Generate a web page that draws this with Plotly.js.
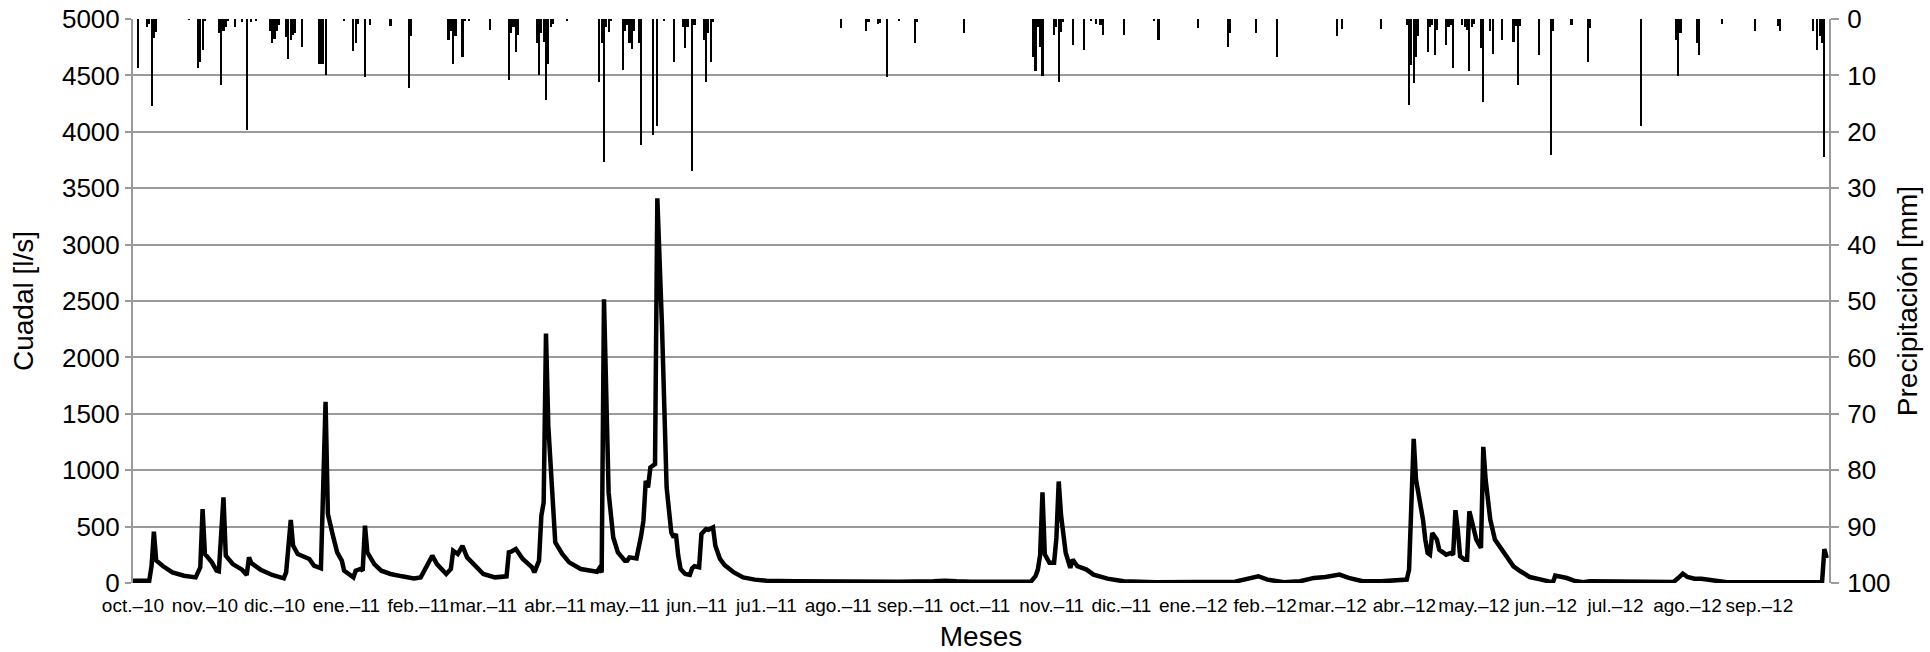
<!DOCTYPE html>
<html>
<head>
<meta charset="utf-8">
<script src="https://cdn.plot.ly/plotly-3.0.1.min.js"></script>
<style>
  html, body { margin: 0; padding: 0; background: #ffffff; }
  #chart { width: 1930px; height: 652px; }
</style>
</head>
<body>
<div id="chart"></div>
<script>
// Month ticks
const monthTickDates = ['2010-10-01','2010-11-01','2010-12-01','2011-01-01','2011-02-01','2011-03-01','2011-04-01','2011-05-01','2011-06-01','2011-07-01','2011-08-01','2011-09-01','2011-10-01','2011-11-01','2011-12-01','2012-01-01','2012-02-01','2012-03-01','2012-04-01','2012-05-01','2012-06-01','2012-07-01','2012-08-01','2012-09-01'];
const monthTickLabels = ['oct.–10','nov.–10','dic.–10','ene.–11','feb.–11','mar.–11','abr.–11','may.–11','jun.–11','ju1.–11','ago.–11','sep.–11','oct.–11','nov.–11','dic.–11','ene.–12','feb.–12','mar.–12','abr.–12','may.–12','jun.–12','jul.–12','ago.–12','sep.–12'];

// Daily precipitation [mm] (days with rain)
const precipDates = ['2010-10-03','2010-10-07','2010-10-08','2010-10-09','2010-10-10','2010-10-11','2010-10-25','2010-10-29','2010-10-30','2010-10-31','2010-11-01','2010-11-07','2010-11-08','2010-11-09','2010-11-10','2010-11-11','2010-11-14','2010-11-17','2010-11-19','2010-11-21','2010-11-23','2010-11-29','2010-11-30','2010-12-01','2010-12-02','2010-12-03','2010-12-06','2010-12-07','2010-12-08','2010-12-09','2010-12-10','2010-12-13','2010-12-20','2010-12-21','2010-12-22','2010-12-23','2010-12-31',
'2011-01-04','2011-01-05','2011-01-06','2011-01-09','2011-01-11','2011-01-20','2011-01-28','2011-01-29','2011-02-14','2011-02-15','2011-02-16','2011-02-17','2011-02-20','2011-02-21','2011-02-23','2011-03-04','2011-03-12','2011-03-13','2011-03-14','2011-03-15','2011-03-16','2011-03-24','2011-03-25','2011-03-26','2011-03-27','2011-03-28','2011-03-29','2011-03-30','2011-03-31','2011-04-06','2011-04-20','2011-04-21','2011-04-22','2011-04-23','2011-04-24','2011-04-25','2011-04-30','2011-05-01','2011-05-02','2011-05-03','2011-05-04','2011-05-05','2011-05-07','2011-05-08','2011-05-13','2011-05-15','2011-05-18','2011-05-22','2011-05-26','2011-05-27','2011-05-28','2011-05-30','2011-05-31','2011-06-04','2011-06-05','2011-06-06','2011-06-07','2011-06-08','2011-08-02','2011-08-13','2011-08-14','2011-08-18','2011-08-19','2011-08-22','2011-08-27','2011-09-03','2011-09-04','2011-09-24','2011-10-24','2011-10-25','2011-10-26','2011-10-27','2011-10-28','2011-11-02','2011-11-03','2011-11-04','2011-11-05','2011-11-06','2011-11-10','2011-11-15','2011-11-18','2011-11-20','2011-11-22','2011-11-23','2011-12-02','2011-12-15','2011-12-17',
'2012-01-03','2012-01-16','2012-01-17','2012-01-28','2012-02-06','2012-03-03','2012-03-05','2012-03-22','2012-04-02','2012-04-03','2012-04-04','2012-04-05','2012-04-06','2012-04-07','2012-04-11','2012-04-12','2012-04-13','2012-04-14','2012-04-15','2012-04-19','2012-04-20','2012-04-21','2012-04-22','2012-04-26','2012-04-27','2012-04-28','2012-04-29','2012-04-30','2012-05-01','2012-05-04','2012-05-05','2012-05-08','2012-05-09','2012-05-13','2012-05-18','2012-05-19','2012-05-20','2012-05-21','2012-05-29','2012-06-03','2012-06-04','2012-06-12','2012-06-19','2012-06-20','2012-07-12','2012-07-27','2012-07-28','2012-07-29','2012-08-05','2012-08-06','2012-08-16','2012-08-30','2012-09-09','2012-09-10','2012-09-24','2012-09-26','2012-09-27','2012-09-28','2012-09-29'];
const precipValues = [8.7,1.4,0.8,15.5,3.4,2.3,0.2,8.7,7.7,5.5,0.4,2.5,11.7,2.1,1.4,0.4,1.4,0.5,19.7,0.6,0.3,2.1,4.3,3.5,2.1,1.0,3.2,7.1,3.8,2.8,2.5,4.9,7.9,7.9,7.9,9.9,0.3,
5.6,4.3,0.9,10.3,1.0,1.2,12.3,3.0,3.8,2.1,7.9,3.0,6.7,0.3,0.3,2.0,10.8,2.5,1.5,5.8,2.8,4.3,9.9,2.5,4.0,14.4,7.9,1.4,0.8,0.3,11.1,4.3,25.4,1.4,2.3,0.3,9.0,2.1,1.0,4.3,5.4,2.1,4.3,22.3,20.6,19.0,0.3,7.6,1.4,5.2,1.4,26.9,1.0,3.8,11.1,2.5,7.7,0.5,1.6,2.1,0.5,0.9,0.7,10.3,0.3,4.3,0.5,2.5,6.7,9.3,1.4,4.9,10.1,2.8,1.4,11.1,2.3,0.5,4.6,5.5,0.3,0.8,1.0,2.8,2.8,0.3,3.8,
1.6,4.9,2.5,2.5,6.8,3.0,1.8,1.8,1.0,15.2,8.1,11.4,6.7,3.0,5.8,1.4,1.0,6.3,2.0,4.6,1.4,1.0,8.7,1.0,1.4,2.0,9.3,1.4,0.8,5.2,14.7,2.1,6.2,3.8,4.1,1.2,11.7,1.2,6.4,24.1,2.1,1.1,7.6,1.6,19.0,3.8,10.1,2.5,4.3,6.4,0.8,2.1,1.2,2.2,2.1,5.5,3.0,4.3,24.4];

// Discharge [l/s]
const flowDates = ['2010-10-01','2010-10-08','2010-10-09','2010-10-10','2010-10-11','2010-10-14','2010-10-18','2010-10-23','2010-10-28','2010-10-30','2010-10-31','2010-11-01','2010-11-04','2010-11-06','2010-11-07','2010-11-09','2010-11-10','2010-11-13','2010-11-17','2010-11-19','2010-11-20','2010-11-21','2010-11-25','2010-11-30','2010-12-05','2010-12-06','2010-12-08','2010-12-09','2010-12-11','2010-12-14','2010-12-16','2010-12-18','2010-12-20','2010-12-21','2010-12-23','2010-12-24','2010-12-26','2010-12-28','2010-12-30','2010-12-31',
'2011-01-02','2011-01-04','2011-01-05','2011-01-07','2011-01-08','2011-01-09','2011-01-10','2011-01-13','2011-01-16','2011-01-20','2011-01-25','2011-01-30','2011-02-02','2011-02-05','2011-02-07','2011-02-09','2011-02-12','2011-02-13','2011-02-15','2011-02-16','2011-02-18','2011-02-20','2011-02-22','2011-02-26','2011-03-01','2011-03-06','2011-03-11','2011-03-12','2011-03-13','2011-03-15','2011-03-18','2011-03-22','2011-03-23','2011-03-25','2011-03-26','2011-03-27','2011-03-28','2011-03-29','2011-03-31','2011-04-01','2011-04-04','2011-04-07','2011-04-12','2011-04-16','2011-04-19','2011-04-20','2011-04-21','2011-04-22','2011-04-23','2011-04-24','2011-04-26','2011-04-28','2011-05-01','2011-05-02','2011-05-03','2011-05-06','2011-05-08','2011-05-09','2011-05-10','2011-05-11','2011-05-12','2011-05-14','2011-05-15','2011-05-17','2011-05-19','2011-05-21','2011-05-22','2011-05-23','2011-05-24','2011-05-25','2011-05-27','2011-05-29','2011-05-30','2011-05-31','2011-06-02','2011-06-03','2011-06-05','2011-06-06','2011-06-08','2011-06-09','2011-06-11','2011-06-13','2011-06-17','2011-06-21','2011-06-26','2011-07-01','2011-07-13','2011-07-28','2011-08-27','2011-09-11','2011-09-16','2011-09-21','2011-09-27','2011-10-23','2011-10-25','2011-10-26','2011-10-27','2011-10-28','2011-10-29','2011-10-31','2011-11-02','2011-11-03','2011-11-04','2011-11-05','2011-11-06','2011-11-07','2011-11-09','2011-11-10','2011-11-12','2011-11-16','2011-11-19','2011-11-25','2011-12-02','2011-12-16',
'2012-01-19','2012-01-24','2012-01-29','2012-02-02','2012-02-09','2012-02-16','2012-02-22','2012-02-27','2012-03-04','2012-03-08','2012-03-14','2012-03-22','2012-04-01','2012-04-02','2012-04-03','2012-04-05','2012-04-06','2012-04-08','2012-04-09','2012-04-10','2012-04-11','2012-04-12','2012-04-13','2012-04-15','2012-04-16','2012-04-19','2012-04-21','2012-04-22','2012-04-23','2012-04-24','2012-04-25','2012-04-27','2012-04-28','2012-04-29','2012-04-30','2012-05-02','2012-05-04','2012-05-05','2012-05-06','2012-05-08','2012-05-10','2012-05-13','2012-05-16','2012-05-18','2012-05-21','2012-05-25','2012-05-30','2012-06-04','2012-06-05','2012-06-08','2012-06-10','2012-06-13','2012-06-17','2012-06-20','2012-06-25','2012-06-30','2012-07-26','2012-07-28','2012-07-30','2012-08-01','2012-08-04','2012-08-07','2012-08-12','2012-08-18','2012-09-28','2012-09-29','2012-09-30'];
const flowValues = [20,20,150,455,200,148,94,65,50,139,655,257,183,109,103,759,242,168,118,71,227,177,118,71,41,94,558,331,257,227,213,154,133,130,1606,611,434,272,198,109,
80,50,109,124,109,508,272,168,109,80,59,41,50,154,242,168,94,80,124,286,257,330,227,139,80,50,59,272,278,301,213,139,94,198,596,714,2211,1393,744,360,257,183,124,109,100,130,94,2516,1689,803,404,272,198,198,227,218,419,552,906,847,1024,1054,3410,2279,847,449,404,434,242,124,80,71,130,148,139,434,478,472,493,331,213,159,94,50,30,21,15,12,12,15,20,15,12,12,60,119,250,803,253,179,179,400,900,600,387,268,134,208,149,119,74,39,15,6,
12,36,60,30,6,15,45,54,74,45,15,15,20,30,118,1278,917,680,562,385,266,251,444,385,296,251,266,251,645,473,237,207,207,636,562,385,311,1207,917,562,385,296,207,148,104,53,30,6,65,53,44,21,6,15,15,6,9,44,83,53,38,38,21,6,6,300,220];

const FONT = 'Liberation Sans, Arial, Helvetica, sans-serif';
const GRID = '#9a9a9a';

const traces = [
  {
    type: 'bar',
    x: precipDates,
    y: precipValues,
    yaxis: 'y2',
    marker: { color: '#000000', line: { width: 0 } },
    width: 86400000 * 0.9,
    hoverinfo: 'skip',
    showlegend: false
  },
  {
    type: 'scatter',
    mode: 'lines',
    x: flowDates,
    y: flowValues,
    line: { color: '#000000', width: 4.5 },
    hoverinfo: 'skip',
    showlegend: false
  }
];

const layout = {
  width: 1930,
  height: 652,
  margin: { l: 133, r: 101, t: 19, b: 69, pad: 0 },
  paper_bgcolor: '#ffffff',
  plot_bgcolor: '#ffffff',
  font: { family: FONT, color: '#000000' },
  showlegend: false,
  bargap: 0,
  xaxis: {
    type: 'date',
    range: ['2010-10-01', '2012-10-01'],
    tickmode: 'array',
    tickvals: monthTickDates,
    ticktext: monthTickLabels,
    tickangle: 0,
    ticks: '',
    ticklabelstandoff: 9,
    showgrid: false,
    zeroline: false,
    showline: false,
    tickfont: { family: FONT, size: 19, color: '#000000' },
    title: { text: 'Meses', font: { family: FONT, size: 28, color: '#000000' }, standoff: 14 }
  },
  yaxis: {
    range: [0, 5000],
    tickmode: 'linear',
    tick0: 0,
    dtick: 500,
    showgrid: true,
    gridcolor: GRID,
    gridwidth: 2,
    zeroline: false,
    showline: true,
    linecolor: GRID,
    linewidth: 2,
    ticks: 'outside',
    ticklen: 6,
    tickwidth: 2,
    tickcolor: GRID,
    tickfont: { family: FONT, size: 26, color: '#000000' },
    title: { text: 'Cuadal [l/s]', font: { family: FONT, size: 28, color: '#000000' }, standoff: 20 }
  },
  yaxis2: {
    overlaying: 'y',
    side: 'right',
    range: [100, 0],
    tickmode: 'linear',
    tick0: 0,
    dtick: 10,
    showgrid: false,
    zeroline: false,
    showline: true,
    linecolor: GRID,
    linewidth: 2,
    ticks: 'outside',
    ticklen: 8,
    tickwidth: 2,
    tickcolor: GRID,
    ticklabelstandoff: 3,
    tickfont: { family: FONT, size: 26, color: '#000000' },
    title: { text: 'Precipitación [mm]', font: { family: FONT, size: 28, color: '#000000' }, standoff: 8 }
  }
};

Plotly.newPlot('chart', traces, layout, { displayModeBar: false, staticPlot: true });
</script>
</body>
</html>
